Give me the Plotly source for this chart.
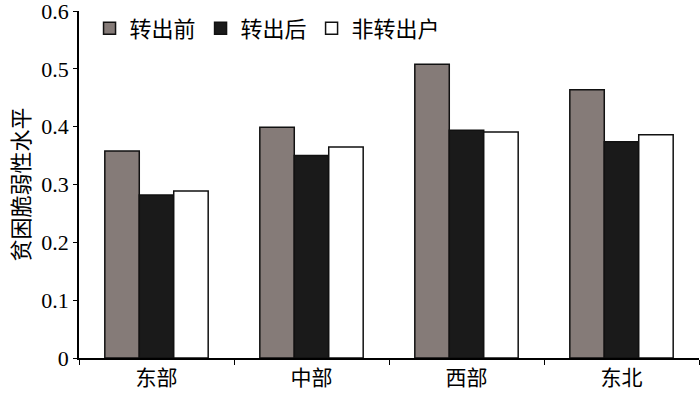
import plotly.graph_objects as go

categories = ["东部", "中部", "西部", "东北"]
before = [0.358, 0.399, 0.508, 0.464]
after = [0.282, 0.350, 0.394, 0.374]
non_transfer = [0.289, 0.365, 0.391, 0.386]
series_names = ["转出前", "转出后", "非转出户"]
colors = ["#857b78", "#1a1a1a", "#ffffff"]
y_ticks = [0, 0.1, 0.2, 0.3, 0.4, 0.5, 0.6]
y_labels = ["0", "0.1", "0.2", "0.3", "0.4", "0.5", "0.6"]

fig = go.Figure()
for name, vals, col in zip(series_names, [before, after, non_transfer], colors):
    fig.add_trace(go.Bar(
        x=categories, y=vals, name=name,
        marker=dict(color=col, line=dict(color="#111111", width=1.5)),
    ))

cjk = "Noto Sans CJK SC"
serif = "Liberation Serif"
fig.update_layout(
    width=700, height=393,
    margin=dict(l=79, r=1, t=11, b=35),
    paper_bgcolor="white", plot_bgcolor="white",
    barmode="group", bargap=0.333, bargroupgap=0,
    font=dict(family=cjk, color="black", size=18),
    legend=dict(
        orientation="h", x=0.017, y=1.01, xanchor="left", yanchor="top",
        font=dict(family=cjk, size=22), itemwidth=30,
        bgcolor="rgba(0,0,0,0)", tracegroupgap=0,
    ),
    showlegend=True,
)
fig.update_xaxes(
    showline=True, linecolor="black", linewidth=1.5, automargin=False,
    ticks="outside", tickson="boundaries", ticklen=5, tickcolor="black",
    tickfont=dict(family=cjk, size=21), showgrid=False,
)
fig.update_yaxes(
    range=[0, 0.6001], tickvals=y_ticks, ticktext=y_labels, automargin=False,
    showline=True, linecolor="black", linewidth=1.5, ticklabeloverflow="allow",
    ticks="outside", ticklen=4, tickcolor="black", showgrid=False, zeroline=False,
    tickfont=dict(family=serif, size=22),
    title=dict(text="贫困脆弱性水平", font=dict(family=cjk, size=22), standoff=6),
)
fig.write_html("out.html")
